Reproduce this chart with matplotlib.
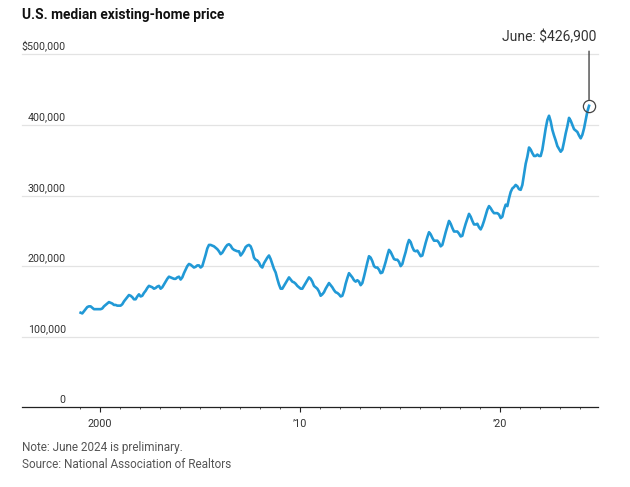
import matplotlib
matplotlib.use("Agg")
import matplotlib.pyplot as plt
import matplotlib.transforms as mtransforms
import numpy as np

# ---- data (monthly NAR median existing-home price, USD thousands) ----
years = list(range(1999, 2025))
monthly_k = {
    1999: [134, 133, 136, 139, 142, 143, 143, 141, 139, 139, 139, 139],
    2000: [139, 140, 143, 145, 147, 149, 148, 147, 145, 145, 144, 144],
    2001: [144, 146, 150, 153, 156, 159, 158, 156, 153, 153, 157, 160],
    2002: [157, 158, 162, 165, 169, 172, 171, 170, 168, 169, 171, 172],
    2003: [168, 170, 174, 178, 182, 185, 184, 183, 182, 182, 184, 185],
    2004: [181, 184, 190, 195, 200, 203, 202, 200, 198, 199, 201, 201],
    2005: [198, 200, 208, 216, 225, 230, 230, 229, 228, 226, 224, 221],
    2006: [217, 219, 223, 227, 230, 231, 229, 225, 223, 222, 221, 221],
    2007: [215, 218, 222, 227, 229, 230, 228, 222, 212, 209, 208, 205],
    2008: [200, 198, 204, 208, 212, 215, 210, 203, 196, 191, 182, 174],
    2009: [168, 168, 172, 176, 180, 184, 181, 178, 177, 175, 172, 170],
    2010: [168, 168, 172, 176, 180, 184, 182, 178, 172, 170, 168, 164],
    2011: [158, 160, 163, 168, 172, 176, 173, 170, 166, 163, 162, 160],
    2012: [157, 158, 165, 175, 183, 190, 187, 184, 180, 178, 180, 178],
    2013: [173, 176, 185, 195, 205, 214, 212, 207, 200, 198, 198, 195],
    2014: [190, 191, 198, 206, 215, 223, 220, 215, 210, 209, 209, 206],
    2015: [200, 203, 212, 220, 230, 237, 234, 227, 222, 221, 222, 218],
    2016: [214, 215, 224, 233, 241, 248, 245, 240, 236, 236, 236, 233],
    2017: [228, 230, 239, 248, 256, 264, 260, 254, 249, 249, 249, 246],
    2018: [242, 243, 252, 260, 267, 274, 270, 264, 259, 259, 260, 255],
    2019: [252, 257, 264, 272, 280, 285, 282, 278, 275, 275, 275, 273],
    2020: [268, 270, 280, 287, 285, 296, 305, 310, 312, 315, 313, 309],
    2021: [308, 315, 330, 345, 355, 368, 365, 360, 356, 356, 358, 356],
    2022: [356, 365, 380, 395, 407, 413, 405, 393, 385, 378, 370, 366],
    2023: [362, 365, 376, 388, 398, 410, 406, 400, 394, 392, 390, 385],
    2024: [381, 386, 395, 407, 419, 427],
}
y_ticks = [0, 100000, 200000, 300000, 400000, 500000]
y_tick_labels = ["0", "100,000", "200,000", "300,000", "400,000", "$500,000"]
x_major = [2000, 2010, 2020]
x_major_labels = ["2000", "\u201910", "\u201920"]
x_minor = list(range(1999, 2025))
title = "U.S. median existing-home price"
annotation = "June: $426,900"
notes = ["Note: June 2024 is preliminary.", "Source: National Association of Realtors"]

# ---- build series ----
dates, prices = [], []
for y in years:
    for m, v in enumerate(monthly_k[y]):
        dates.append(y + m / 12 + 0.035)
        prices.append(v * 1000)
dates = np.array(dates)
prices = np.array(prices)

FONT = "Roboto"
W, H = 630, 487
fig = plt.figure(figsize=(W / 100, H / 100), dpi=100)
left_px, right_px, top_px, bot_px = 21.7, 597.7, 54.3, 407.3
ax = fig.add_axes([left_px / W, 1 - bot_px / H, (right_px - left_px) / W, (bot_px - top_px) / H])

BLUE = "#2199d6"
GRID = "#e3e3e3"
TXT = "#333333"

ax.set_xlim(1996.09, 2024.885)
ax.set_ylim(0, 500000)

for t in y_ticks[1:]:
    ax.axhline(t, color=GRID, lw=0.9, zorder=0, clip_on=False)

ax.plot(dates, prices, color=BLUE, lw=1.9, zorder=3, solid_joinstyle="round")

for s in ["top", "right", "left"]:
    ax.spines[s].set_visible(False)
ax.spines["bottom"].set_color("#222222")
ax.spines["bottom"].set_linewidth(0.9)
ax.set_yticks([])
ax.set_xticks(x_major)
ax.set_xticklabels(x_major_labels, fontfamily=FONT, fontsize=7.8, color=TXT)
ax.set_xticks(x_minor, minor=True)
ax.tick_params(axis="x", which="major", length=3.5, width=0.8, color="#222222", pad=5.0)
ax.tick_params(axis="x", which="minor", length=1.5, width=0.7, color="#555555")

# y tick labels above gridlines, right aligned
trans = mtransforms.blended_transform_factory(ax.transAxes, ax.transData)
offset = mtransforms.ScaledTranslation(0, 2.0 / 72, fig.dpi_scale_trans)
lab_x = (65.7 - left_px) / (right_px - left_px)
for t, lab in zip(y_ticks, y_tick_labels):
    ax.text(lab_x, t, lab, transform=trans + offset, ha="right", va="bottom",
            fontfamily=FONT, fontsize=7.7, color=TXT, clip_on=False)

# annotation
xe, ye = dates[-1], prices[-1]
ax.plot([xe], [ye], marker="o", ms=8.8, mfc="none", mec="#444444", mew=0.9, zorder=5, clip_on=False)
ax.annotate("", xy=(xe, ye), xytext=(xe, 504500),
            arrowprops=dict(arrowstyle="-", color="#333333", lw=0.9, shrinkA=0, shrinkB=4.5),
            annotation_clip=False)
fig.text(596.7 / W, 1 - 37 / H, annotation, ha="right", va="center",
         fontfamily=FONT, fontsize=10.0, color=TXT)

fig.text(21.7 / W, 1 - 15.5 / H, title, ha="left", va="center",
         fontfamily=FONT, fontsize=9.95, fontweight="bold", color="#111111")
fig.text(21.7 / W, 1 - 447 / H, notes[0], ha="left", va="center",
         fontfamily=FONT, fontsize=8.5, color="#555555")
fig.text(21.7 / W, 1 - 464.5 / H, notes[1], ha="left", va="center",
         fontfamily=FONT, fontsize=8.5, color="#555555")

fig.savefig("out.png", dpi=100)
